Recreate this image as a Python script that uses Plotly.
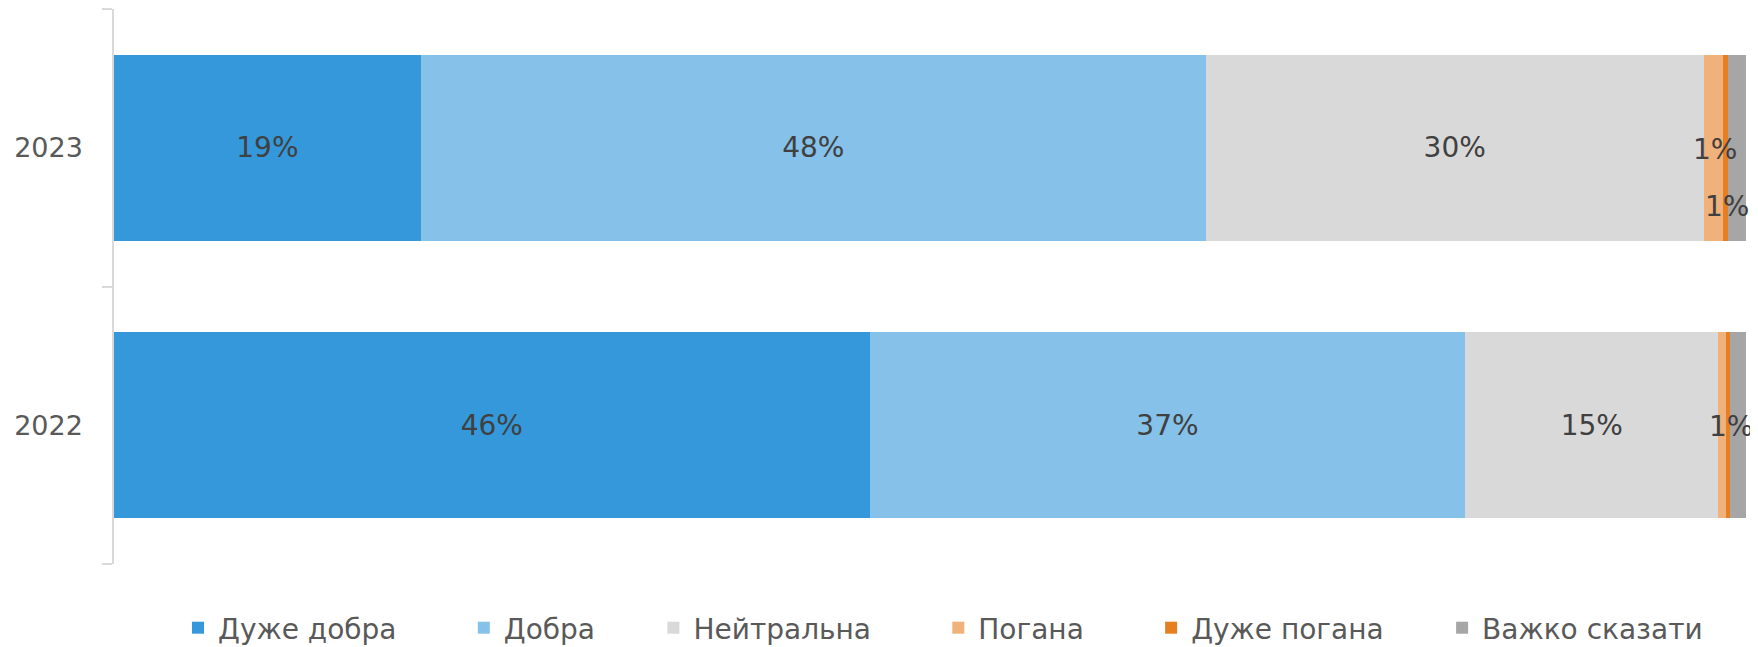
import plotly.graph_objects as go

# ---------------- data ----------------
years = ["2022", "2023"]
series_names = ["Дуже добра", "Добра", "Нейтральна", "Погана", "Дуже погана", "Важко сказати"]

very_good = [46.3, 18.8]
good = [36.5, 48.1]
neutral = [15.5, 30.5]
bad = [0.5, 1.2]
very_bad = [0.2, 0.3]
hard_to_say = [1.0, 1.1]

label_very_good = ["46%", "19%"]
label_good = ["37%", "48%"]
label_neutral = ["15%", "30%"]
label_bad = ["", "1%"]
label_very_bad = ["", ""]
label_hard_to_say = ["1%", "1%"]

series_values = [very_good, good, neutral, bad, very_bad, hard_to_say]
series_labels = [label_very_good, label_good, label_neutral, label_bad, label_very_bad, label_hard_to_say]

# ---------------- style ----------------
colors = ["#3598DB", "#85C1E9", "#D9D9D9", "#F0B27A", "#E67E22", "#A6A6A6"]
FONT = "DejaVu Sans"
LABEL_COLOR = "#404040"
TEXT_COLOR = "#595959"
narrow_threshold = 3.0
# pixel nudges for the narrow-segment labels: (series index, year index) -> (xshift, yshift)
narrow_offsets = {(3, 1): (2, -2), (5, 1): (-10, -59), (5, 0): (-7, -1)}
# trailing non-breaking spaces after each legend entry (spacing between entries)
legend_pads = [7, 6, 7, 7, 6, 0]

# page body has an 8px default margin; the figure is sized so its plot area lands where the reference's does
W, H = 1750, 639

fig = go.Figure()

for i, (name, vals, labs) in enumerate(zip(series_names, series_values, series_labels)):
    inside_text = [t if v >= narrow_threshold else "" for v, t in zip(vals, labs)]
    fig.add_trace(go.Bar(
        y=years, x=vals, name=name + "\u00a0" * legend_pads[i], orientation="h",
        marker=dict(color=colors[i], line=dict(width=0)),
        text=inside_text, textposition="inside", insidetextanchor="middle",
        textangle=0, constraintext="none",
        textfont=dict(family=FONT, size=28, color=LABEL_COLOR),
        showlegend=True, hovertemplate=name + ": %{x}<extra></extra>",
    ))

# labels for narrow segments (category axis -> y given as category index)
annotations = []
for yi, yr in enumerate(years):
    left = 0.0
    for si, vals in enumerate(series_values):
        v = vals[yi]
        lab = series_labels[si][yi]
        if v < narrow_threshold and lab:
            dx, dy = narrow_offsets.get((si, yi), (0, 0))
            annotations.append(dict(
                x=left + v / 2, y=yi, xref="x", yref="y", text=lab,
                showarrow=False, xshift=dx, yshift=dy,
                font=dict(family=FONT, size=28, color=LABEL_COLOR),
            ))
        left += v

fig.update_layout(
    barmode="stack",
    bargap=0.33,
    width=W, height=H,
    margin=dict(l=106, r=12, t=1, b=83, autoexpand=False),
    paper_bgcolor="white", plot_bgcolor="white",
    font=dict(family=FONT, size=27, color=TEXT_COLOR),
    annotations=annotations,
    legend=dict(
        orientation="h", xref="container", yref="container",
        x=170 / W, xanchor="left", y=(H - 620) / H, yanchor="middle",
        font=dict(family=FONT, size=28, color=TEXT_COLOR),
        bgcolor="rgba(0,0,0,0)", itemclick=False, itemdoubleclick=False,
        traceorder="normal",
    ),
    xaxis=dict(range=[0, 100], visible=False, fixedrange=True),
    yaxis=dict(
        type="category", categoryorder="array", categoryarray=years,
        range=[-0.5, 1.5],
        showline=True, linecolor="#D9D9D9", linewidth=1.5,
        ticks="outside", tickson="boundaries", ticklen=10, tickcolor="#D9D9D9", tickwidth=1.5,
        ticklabelstandoff=24,
        tickfont=dict(family=FONT, size=27, color=TEXT_COLOR),
        showgrid=False, zeroline=False, fixedrange=True,
    ),
)

fig.write_html("out.html")
